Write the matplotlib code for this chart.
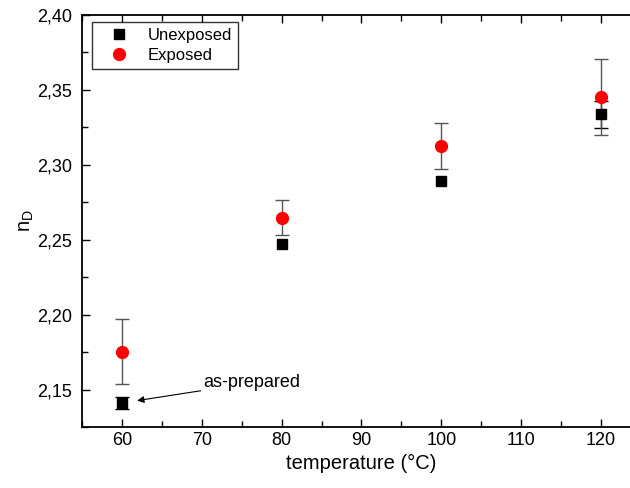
import matplotlib
matplotlib.use('Agg')
import matplotlib.pyplot as plt
from matplotlib.ticker import MultipleLocator, FuncFormatter

plt.rcParams['font.family'] = ['Liberation Sans', 'DejaVu Sans']

temps = [60, 80, 100, 120]
unexposed = [2.1407, 2.2474, 2.2891, 2.3337]
unexposed_err = [0.004, 0.0, 0.0, 0.009]
exposed = [2.1752, 2.2648, 2.3124, 2.3452]
exposed_err = [0.0218, 0.0118, 0.0155, 0.0252]

fig = plt.figure(figsize=(6.3, 4.88), dpi=100)
ax = fig.add_axes([82 / 630, 1 - 427 / 488, (641 - 82) / 630, (427 - 15) / 488])

# only draw bars that actually have an error
ue = [(t, v, e) for t, v, e in zip(temps, unexposed, unexposed_err) if e > 0]
ax.errorbar([u[0] for u in ue], [u[1] for u in ue], yerr=[u[2] for u in ue],
            fmt='none', ecolor='black', elinewidth=1, capsize=5, capthick=1, zorder=2)
ax.errorbar(temps, exposed, yerr=exposed_err, fmt='none', ecolor='#555555',
            elinewidth=1, capsize=5, capthick=1, zorder=2)
ax.plot(temps, unexposed, 's', color='black', markersize=7.5, label='Unexposed', zorder=3)
ax.plot(temps, exposed, 'o', color='red', markersize=8.5, label='Exposed', zorder=4)

ax.annotate('as-prepared', xy=(61.9, 2.1426), xytext=(70.2, 2.1545),
            fontsize=13, va='center', ha='left',
            arrowprops=dict(arrowstyle='-|>', color='black', lw=0.8,
                            shrinkA=0, shrinkB=0, mutation_scale=10))

ax.set_xlim(55, 125)
ax.set_ylim(2.125, 2.40)
ax.xaxis.set_major_locator(MultipleLocator(10))
ax.xaxis.set_minor_locator(MultipleLocator(5))
ax.yaxis.set_major_locator(MultipleLocator(0.05))
ax.yaxis.set_minor_locator(MultipleLocator(0.025))
ax.yaxis.set_major_formatter(FuncFormatter(lambda v, p: ('%.2f' % v).replace('.', ',')))
ax.tick_params(which='both', direction='in', top=True, right=True, labelsize=13, width=1)
ax.tick_params(which='major', length=6)
ax.tick_params(which='minor', length=4)
ax.tick_params(axis='y', pad=7)
for s in ax.spines.values():
    s.set_linewidth(1.3)

ax.set_xlabel('temperature (°C)', fontsize=14.5)
ax.set_ylabel('n$_\\mathregular{D}$', fontsize=14.5, labelpad=1)

leg = ax.legend(loc='upper left', bbox_to_anchor=(0.018, 0.983), fontsize=12,
                frameon=True, fancybox=False, edgecolor='black', borderaxespad=0,
                handletextpad=0.5, borderpad=0.35, labelspacing=0.3, handlelength=2.5)
leg.get_frame().set_linewidth(1)

fig.savefig('out.png', dpi=100)
